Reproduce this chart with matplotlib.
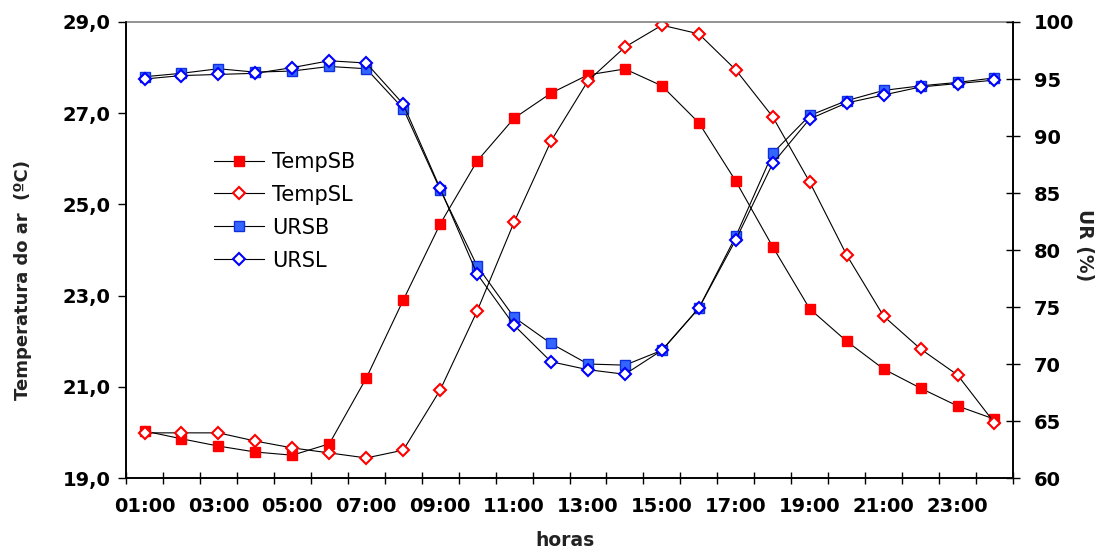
import numpy as np
import matplotlib
matplotlib.use('Agg')
import matplotlib.pyplot as plt

# hourly data, one value per hour
hours = ['%02d:00' % h for h in range(1, 25)]
temp_sb = [20.03, 19.86, 19.70, 19.57, 19.50, 19.75, 21.19, 22.90, 24.57, 25.95, 26.89, 27.44,
           27.84, 27.97, 27.60, 26.79, 25.51, 24.07, 22.71, 22.00, 21.39, 20.97, 20.58, 20.29]
temp_sl = [19.99, 19.99, 19.99, 19.81, 19.66, 19.55, 19.44, 19.61, 20.93, 22.66, 24.61, 26.39,
           27.71, 28.45, 28.93, 28.74, 27.95, 26.92, 25.49, 23.89, 22.55, 21.83, 21.26, 20.21]
ur_sb = [95.2, 95.5, 95.9, 95.6, 95.7, 96.1, 95.9, 92.4, 85.3, 78.6, 74.1, 71.8,
         70.0, 69.9, 71.2, 74.9, 81.2, 88.5, 91.8, 93.1, 94.0, 94.4, 94.7, 95.1]
ur_sl = [95.0, 95.3, 95.4, 95.5, 96.0, 96.6, 96.4, 92.8, 85.4, 77.9, 73.4, 70.2,
         69.5, 69.1, 71.2, 74.9, 80.9, 87.6, 91.5, 92.9, 93.6, 94.3, 94.6, 94.9]
temp_ticks = [19, 21, 23, 25, 27, 29]
ur_ticks = [60, 65, 70, 75, 80, 85, 90, 95, 100]

x = np.arange(len(hours)) + 0.5

fig = plt.figure(figsize=(10.99, 5.5), dpi=100)
ax = fig.add_axes([0.1147, 0.1309, 0.8070, 0.8291])
ax2 = ax.twinx()

l1, = ax.plot(x, temp_sb, color='black', lw=0.8, marker='s', ms=7.5,
              mfc='#ff0000', mec='#ff0000', label='TempSB')
l2, = ax.plot(x, temp_sl, color='black', lw=0.8, marker='D', ms=6.5,
              mfc='white', mec='#ff0000', mew=1.5, label='TempSL')
l3, = ax2.plot(x, ur_sb, color='black', lw=0.8, marker='s', ms=7.5,
               mfc='#3366ff', mec='#1030e0', label='URSB')
l4, = ax2.plot(x, ur_sl, color='black', lw=0.8, marker='D', ms=6.5,
               mfc='white', mec='#0000ff', mew=1.5, label='URSL')

ax.set_xlim(0, len(hours))
ax.set_ylim(19, 29)
ax2.set_ylim(60, 100)

# category ticks between points, labels every other hour
ax.set_xticks(np.arange(len(hours) + 1))
ax.set_xticklabels([])
ax.set_xticks(x[::2], minor=True)
ax.set_xticklabels(hours[::2], minor=True, fontsize=14, fontweight='bold')
ax.tick_params(axis='x', which='major', direction='inout', length=9, width=1)
ax.tick_params(axis='x', which='minor', length=0, pad=14)

ax.set_yticks(temp_ticks)
ax.yaxis.set_major_formatter(plt.FuncFormatter(lambda v, p: ('%.1f' % v).replace('.', ',')))
for t in ax.get_yticklabels():
    t.set_fontsize(14)
    t.set_fontweight('bold')
ax.tick_params(axis='y', direction='out', length=6, width=1, pad=5)

ax2.set_yticks(ur_ticks)
ax2.set_yticklabels([str(t) for t in ur_ticks], fontsize=14, fontweight='bold')
ax2.tick_params(axis='y', direction='inout', length=10, width=1, pad=10)

for a in (ax, ax2):
    for s in a.spines.values():
        s.set_linewidth(1.2)
        s.set_color('black')
ax.spines['top'].set_color('#808080')
ax2.spines['top'].set_visible(False)

ax.set_ylabel('Temperatura do ar  (ºC)', fontsize=13, fontweight='bold', color='#222222')
ax.yaxis.set_label_coords(-0.106, 0.434)
fig.text(0.987, 0.555, 'UR (%)', fontsize=13.5, fontweight='bold', color='#222222',
         rotation=270, ha='center', va='center')
fig.text(0.514, 0.018, 'horas', fontsize=13.5, fontweight='bold', color='#222222',
         ha='center', va='center')

leg = ax2.legend(handles=[l1, l2, l3, l4], loc='upper left', bbox_to_anchor=(0.1775, 0.758),
                 bbox_transform=fig.transFigure, frameon=False, fontsize=15,
                 handlelength=2.4, handletextpad=0.4, labelspacing=0.62)

fig.savefig('out.png', dpi=100)
